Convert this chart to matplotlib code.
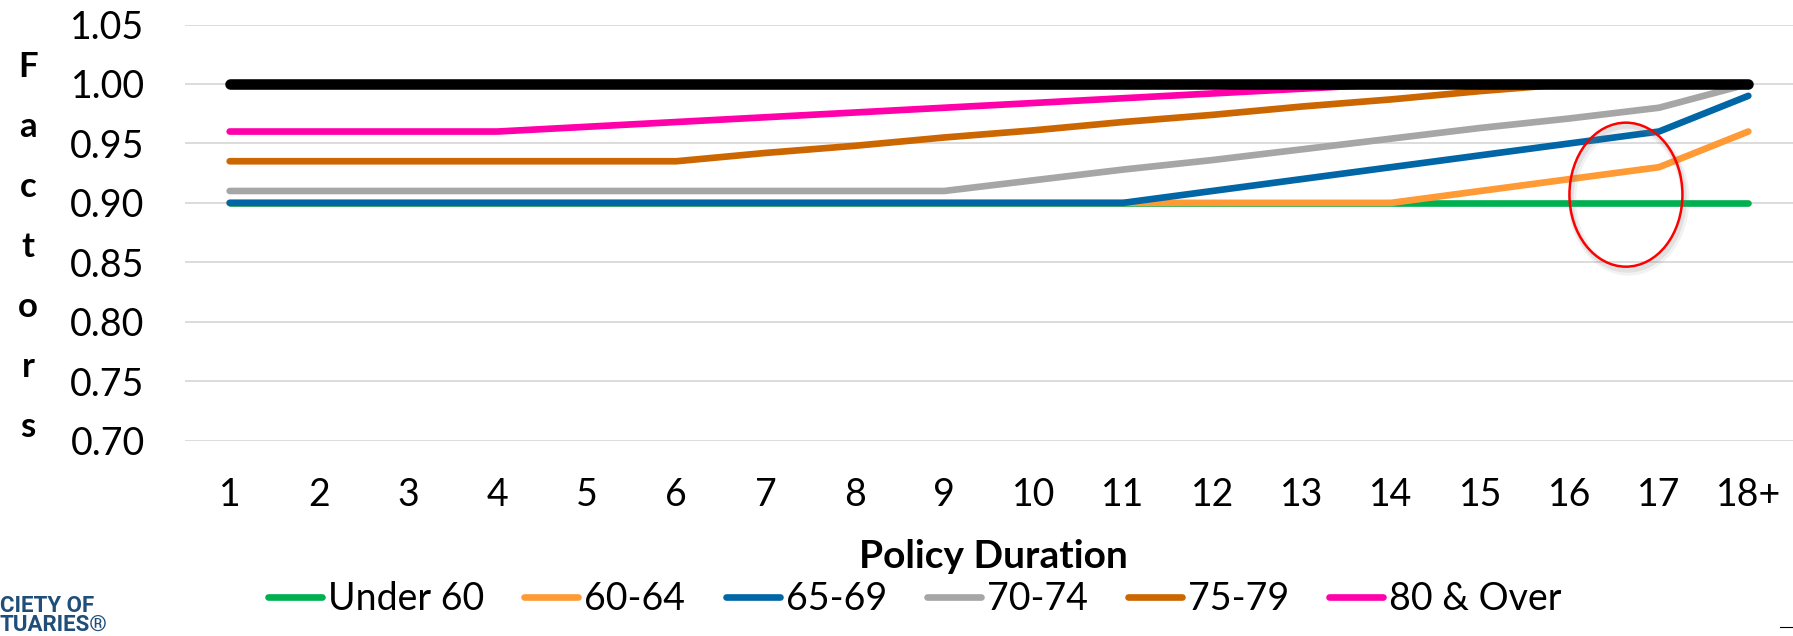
import matplotlib
matplotlib.use("Agg")
import matplotlib.pyplot as plt
from matplotlib import font_manager
from matplotlib.patches import Ellipse
from matplotlib.lines import Line2D

# ---------------- data ----------------
durations = ['1', '2', '3', '4', '5', '6', '7', '8', '9', '10',
             '11', '12', '13', '14', '15', '16', '17', '18+']
series_names = ['Under 60', '60-64', '65-69', '70-74', '75-79', '80 & Over']
under_60 = [0.90, 0.90, 0.90, 0.90, 0.90, 0.90, 0.90, 0.90, 0.90,
            0.90, 0.90, 0.90, 0.90, 0.90, 0.90, 0.90, 0.90, 0.90]
age_60_64 = [0.90, 0.90, 0.90, 0.90, 0.90, 0.90, 0.90, 0.90, 0.90,
             0.90, 0.90, 0.90, 0.90, 0.90, 0.91, 0.92, 0.93, 0.96]
age_65_69 = [0.90, 0.90, 0.90, 0.90, 0.90, 0.90, 0.90, 0.90, 0.90,
             0.90, 0.90, 0.91, 0.92, 0.93, 0.94, 0.95, 0.96, 0.99]
age_70_74 = [0.91, 0.91, 0.91, 0.91, 0.91, 0.91, 0.91, 0.91, 0.91,
             0.919, 0.928, 0.936, 0.945, 0.954, 0.963, 0.971, 0.98, 1.00]
age_75_79 = [0.935, 0.935, 0.935, 0.935, 0.935, 0.935, 0.942, 0.948, 0.955,
             0.961, 0.968, 0.974, 0.981, 0.987, 0.994, 1.00, 1.00, 1.00]
age_80_over = [0.96, 0.96, 0.96, 0.96, 0.964, 0.968, 0.972, 0.976, 0.98,
               0.984, 0.988, 0.992, 0.996, 1.00, 1.00, 1.00, 1.00, 1.00]
baseline = [1.00, 1.00, 1.00, 1.00, 1.00, 1.00, 1.00, 1.00, 1.00,
            1.00, 1.00, 1.00, 1.00, 1.00, 1.00, 1.00, 1.00, 1.00]
y_ticks = [0.70, 0.75, 0.80, 0.85, 0.90, 0.95, 1.00, 1.05]
ylabel_text = 'Factors'
xlabel_text = 'Policy Duration'

colors = ['#00B050', '#FF9A35', '#0066A6', '#A6A6A6', '#CC6600', '#FF00AA']

# ---------------- fonts ----------------
available = {f.name for f in font_manager.fontManager.ttflist}
main_font = 'Lato' if 'Lato' in available else 'DejaVu Sans'
plt.rcParams['font.family'] = [main_font, 'DejaVu Sans']

W, H = 1793, 636
fig = plt.figure(figsize=(W / 100, H / 100), dpi=100)
ax = fig.add_axes([185 / W, (H - 440.7) / H, 1 - 185 / W, (440.7 - 24.5) / H])

x = list(range(1, len(durations) + 1))
all_series = [under_60, age_60_64, age_65_69, age_70_74, age_75_79, age_80_over]
for vals, name, col in zip(all_series, series_names, colors):
    ax.plot(x, vals, color=col, lw=4.8, solid_capstyle='round',
            solid_joinstyle='round', label=name, clip_on=False, zorder=3)
ax.plot(x, baseline, color='black', lw=7.6, solid_capstyle='round',
        clip_on=False, zorder=4)

ax.set_xlim(0.5, len(durations) + 0.5)
ax.set_ylim(0.70, 1.05)
ax.set_yticks(y_ticks)
ax.set_yticklabels([f'{v:.2f}' for v in y_ticks])
ax.set_xticks(x)
ax.set_xticklabels(durations)
ax.tick_params(axis='both', length=0, labelsize=27)
ax.tick_params(axis='y', pad=29)
ax.tick_params(axis='x', pad=26)
ax.grid(axis='y', color='#D9D9D9', lw=1.3, zorder=0)
ax.set_axisbelow(True)
for s in ax.spines.values():
    s.set_visible(False)

# highlight ellipse with soft shadow
ecx, ecy, ew, eh = 16.63, 0.9069, 1.265, 0.1211
for dx, dy, a, lw in [(0.03, -0.004, 0.10, 6), (0.02, -0.003, 0.15, 3.5)]:
    ax.add_patch(Ellipse((ecx + dx, ecy + dy), ew, eh, fill=False,
                         edgecolor='gray', alpha=a, lw=lw, zorder=5))
ax.add_patch(Ellipse((ecx, ecy), ew, eh, fill=False, edgecolor='#FF0000',
                     lw=1.8, zorder=6))

# vertical stacked y label
for i, ch in enumerate(ylabel_text):
    fig.text(28 / W, 1 - (77 + i * 60) / H, ch, ha='center', va='baseline',
             fontsize=25, fontweight='bold')

fig.text(993 / W, 1 - 568 / H, xlabel_text, ha='center', va='baseline',
         fontsize=28, fontweight='bold')

# legend
handles = [Line2D([0], [0], color=c, lw=4.8, solid_capstyle='round') for c in colors]
fig.legend(handles, series_names, loc='lower center', ncol=6,
           bbox_to_anchor=(915 / W, 0.0), frameon=False, borderpad=0,
           handlelength=1.44, handletextpad=0.16, columnspacing=1.07,
           prop={'size': 27})

# partial logo text at bottom-left
fig.text(0, 1 - 612 / H, 'CIETY OF', ha='left', va='baseline', fontsize=16,
         fontweight='bold', color='#1F4E79', family='Roboto')
fig.text(0, 1 - 631 / H, 'TUARIES\u00ae', ha='left', va='baseline', fontsize=16,
         fontweight='bold', color='#1F4E79', family='Roboto')

# tiny mark bottom-right
fig.add_artist(Line2D([1780 / W, 1793 / W], [1 - 627 / H, 1 - 627 / H],
                      color='black', lw=0.8))

fig.savefig('out.png', dpi=100)
